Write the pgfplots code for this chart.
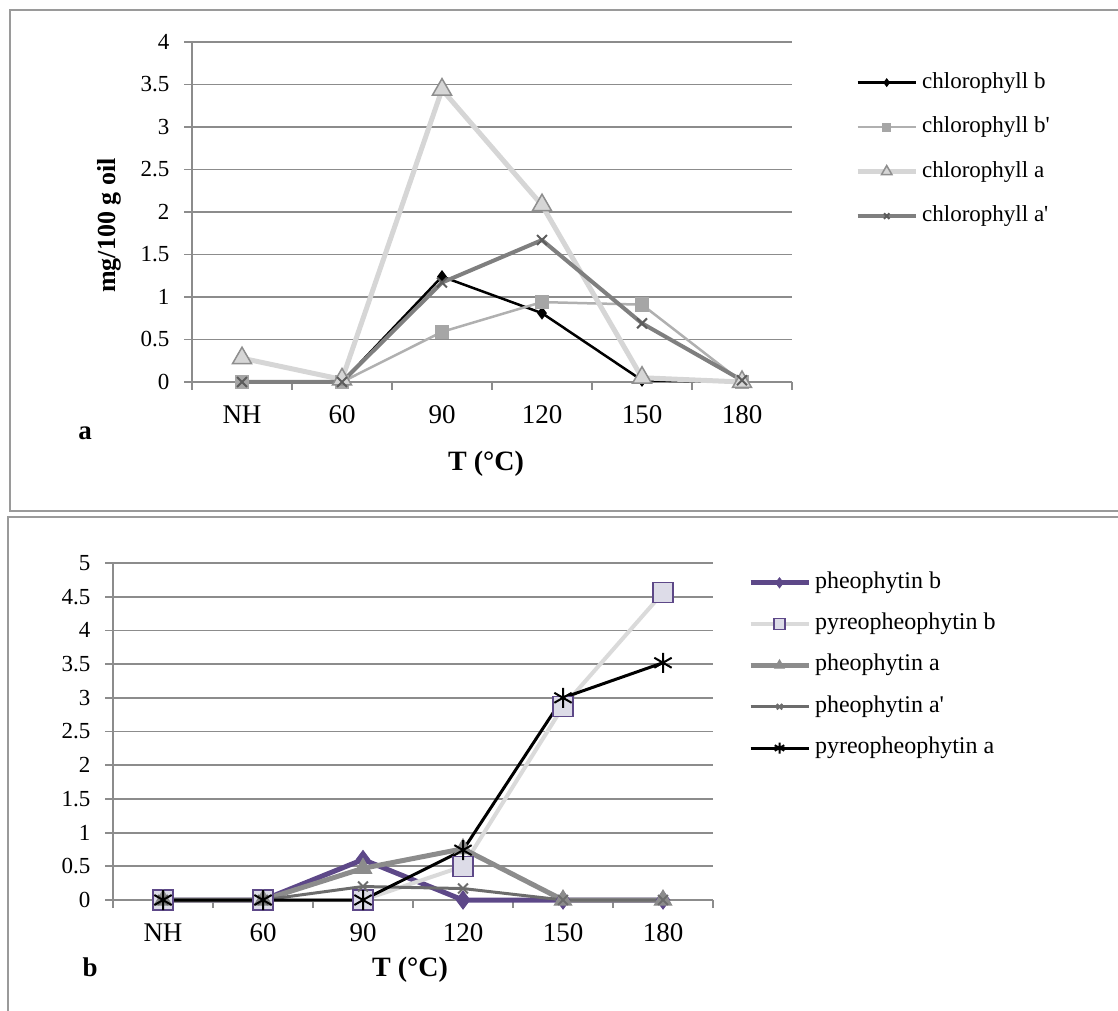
\documentclass[border=0pt]{standalone}
\usepackage{pgfplots}
\pgfplotsset{compat=1.18}
\usepackage{fontspec}
\setmainfont{Liberation Serif}

\definecolor{gridgray}{HTML}{8C8C8C}
\definecolor{framegray}{HTML}{9A9A9A}
\definecolor{colbp}{HTML}{B0B0B0}
\definecolor{colbpm}{HTML}{A6A6A6}
\definecolor{cola}{HTML}{D6D6D6}
\definecolor{colam}{HTML}{8E8E8E}
\definecolor{colap}{HTML}{7F7F7F}
\definecolor{colapm}{HTML}{5C5C5C}
\definecolor{colpurp}{HTML}{5D4888}
\definecolor{collav}{HTML}{DDDCE8}
\definecolor{colpyb}{HTML}{DADADA}
\definecolor{colpha}{HTML}{8C8C8C}
\definecolor{colphap}{HTML}{6C6C6C}

\pgfplotsset{
  panel/.style={
    scale only axis, width=600pt,
    xmin=-0.5, xmax=5.5, ymin=0,
    axis lines*=left,
    axis line style={gridgray, line width=2pt},
    ymajorgrids, major grid style={gridgray, line width=1.8pt},
    xtick={0,...,5}, xticklabels={NH,60,90,120,150,180},
    major x tick style={draw=none},
    minor xtick={-0.5,0.5,...,5.5},
    minor tick length=8pt,
    major tick length=8pt,
    tick align=outside,
    tick style={gridgray, line width=1.8pt},
    xticklabel style={font=\fontsize{27}{30}\selectfont, yshift=-12pt},
    yticklabel style={font=\fontsize{23}{26}\selectfont, xshift=-11pt},
    /pgf/number format/assume math mode=true,
    clip=false,
    legend cell align=left,
    legend style={draw=none, fill=none, inner sep=0pt, anchor=north west,
      font=\fontsize{24}{28}\selectfont, column sep=4pt,
      nodes={inner sep=0pt, text height=16pt, text depth=5pt}},
    legend image code/.code={\draw[mark repeat=2, mark phase=2,
      every mark/.append style={scale=0.55}]
      plot coordinates {(0pt,0pt) (29pt,0pt) (58pt,0pt)};},
    xlabel style={font=\fontsize{28}{32}\selectfont\bfseries},
    ylabel style={font=\fontsize{26}{30}\selectfont\bfseries},
  }
}

\begin{document}
\begin{tikzpicture}[x=1pt, y=1pt]
\useasboundingbox (0,0) rectangle (1118,1010);
\draw[framegray, line width=2pt] (10,499) rectangle (1122,1000);
\draw[framegray, line width=2pt] (8,-5) rectangle (1122,493);

% panel a: chlorophylls
\begin{axis}[panel, at={(192pt,628pt)}, anchor=south west,
  height=340pt, ymax=4, ytick={0,0.5,...,4},
  xlabel={T (°C)}, ylabel={mg/100 g oil},
  xlabel style={at={(axis description cs:0.49,-0.24)}, anchor=center},
  ylabel style={at={(axis description cs:-0.137,0.46)}, anchor=center},
  legend style={at={(axis description cs:1.105,0.912)}, row sep=23.5pt,
    font=\fontsize{23}{28}\selectfont},
]
\addplot[black, line width=2.5pt, mark=diamond*, mark size=4.5pt,
  mark options={fill=black}]
  coordinates {(0,0) (1,0) (2,1.24) (3,0.81) (4,0.02) (5,0)};
\addplot[colbp, line width=2.5pt, mark=square*, mark size=6pt,
  mark options={fill=colbpm, draw=colbpm}]
  coordinates {(0,0) (1,0) (2,0.59) (3,0.94) (4,0.91) (5,0)};
\addplot[cola, line width=5pt, mark=triangle*, mark size=11pt,
  mark options={fill=cola, draw=colam, line width=1.5pt}]
  coordinates {(0,0.28) (1,0.03) (2,3.44) (3,2.08) (4,0.05) (5,0)};
\addplot[colap, line width=4pt, mark=x, mark size=7pt,
  mark options={draw=colapm, line width=2pt}]
  coordinates {(0,0) (1,0) (2,1.17) (3,1.67) (4,0.69) (5,0.02)};
\legend{chlorophyll b, chlorophyll b\textquotesingle, chlorophyll a, chlorophyll a\textquotesingle}
\node[font=\fontsize{27}{30}\selectfont\bfseries] at (axis description cs:-0.178,-0.15) {a};
\end{axis}

% panel b: pheophytins
\begin{axis}[panel, at={(113pt,110pt)}, anchor=south west,
  height=337pt, ymax=5, ytick={0,0.5,...,5},
  xlabel={T (°C)},
  xlabel style={at={(axis description cs:0.495,-0.208)}, anchor=center},
  legend style={at={(axis description cs:1.058,0.973)}, row sep=20.3pt},
]
\addplot[colpurp, line width=5pt, mark=diamond*, mark size=9pt,
  mark options={fill=colpurp, draw=colpurp, line width=1pt}]
  coordinates {(0,0) (1,0) (2,0.6) (3,0) (4,0) (5,0)};
\addplot[colpyb, line width=4pt, mark=square*, mark size=10pt,
  mark options={fill=collav, draw=colpurp, line width=1.5pt}]
  coordinates {(0,0) (1,0) (2,0) (3,0.5) (4,2.87) (5,4.56)};
\addplot[colpha, line width=5pt, mark=triangle*, mark size=10pt,
  mark options={fill=colpha, draw=colpha, line width=1pt}]
  coordinates {(0,0) (1,0) (2,0.47) (3,0.76) (4,0) (5,0)};
\addplot[colphap, line width=3pt, mark=x, mark size=7pt,
  mark options={draw=colphap, line width=2pt}]
  coordinates {(0,0) (1,0) (2,0.2) (3,0.17) (4,0) (5,0)};
\addplot[black, line width=3pt, mark=asterisk, mark size=10pt,
  mark options={draw=black, line width=2pt}]
  coordinates {(0,0) (1,0) (2,0) (3,0.74) (4,3.0) (5,3.52)};
\legend{pheophytin b, pyreopheophytin b, pheophytin a, pheophytin a\textquotesingle, pyreopheophytin a}
\node[font=\fontsize{27}{30}\selectfont\bfseries] at (axis description cs:-0.038,-0.2) {b};
\end{axis}
\end{tikzpicture}
\end{document}
